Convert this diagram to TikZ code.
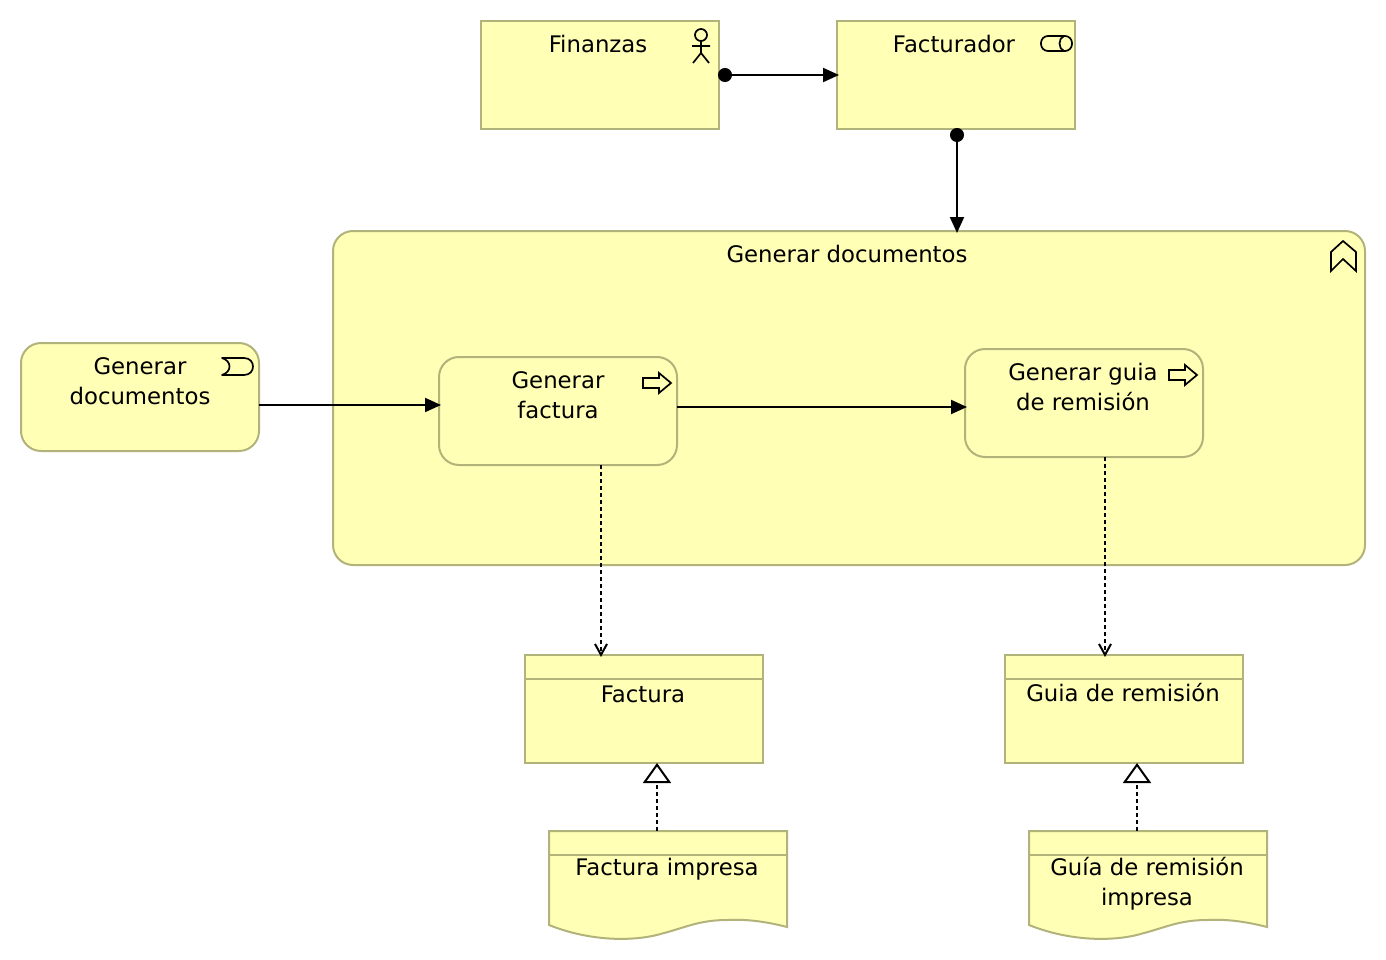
\documentclass[tikz,border=0pt]{standalone}
\usepackage{fontspec}
\setmainfont{DejaVu Sans}
\usetikzlibrary{arrows.meta}
\definecolor{amarillo}{HTML}{FFFFB5}
\definecolor{borde}{HTML}{B2B27B}
\tikzset{
  caja/.style={draw=borde, fill=amarillo, line width=2pt, inner sep=0pt, outer sep=0pt,
    minimum width=238pt, minimum height=108pt},
  redonda/.style={caja, rounded corners=20pt},
  texto/.style={font=\fontsize{22.8}{30}\selectfont, align=center, inner sep=0pt, text=black},
  icono/.style={draw=black, line width=1.7pt, line join=miter},
  flujo/.style={line width=2pt, shorten >=-2pt, -{Triangle[length=16pt,width=14pt]}},
  asignacion/.style={line width=2pt, shorten >=-2pt, shorten <=-1pt, {Circle[length=14pt,width=14pt]}-{Triangle[length=16pt,width=14pt]}},
  acceso/.style={line width=2pt, shorten >=-2pt, dash pattern=on 4pt off 3pt, -{Straight Barb[length=11pt,width=12pt]}},
  realiza/.style={line width=2pt, dash pattern=on 4pt off 3pt, -{Triangle[length=20pt,width=28pt,fill=white]}}
}
\begin{document}
\begin{tikzpicture}[x=1pt,y=-1pt]
\useasboundingbox (0,0) rectangle (1386,960);

% cajas
\node[caja] (finanzas) at (600,75) {};
\node[caja] (facturador) at (956,75) {};
\node[redonda, minimum width=1032pt, minimum height=334pt] (proceso) at (849,398) {};
\node[redonda] (servicio) at (140,397) {};
\node[redonda] (factura) at (558,411) {};
\node[redonda] (guia) at (1084,403) {};
\node[caja] (docfactura) at (644,709) {};
\node[caja] (docguia) at (1124,709) {};
\draw[borde, line width=2pt] (docfactura.west |- 0,679) -- (docfactura.east |- 0,679);
\draw[borde, line width=2pt] (docguia.west |- 0,679) -- (docguia.east |- 0,679);

% documentos impresos con borde ondulado
\foreach \xx/\nombre in {549/impfactura,1029/impguia}{
  \draw[borde, fill=amarillo, line width=2pt] (\xx,831) -- (\xx+238,831) -- (\xx+238,927)
    .. controls (\xx+215,921) and (\xx+195,919) .. (\xx+178,920)
    .. controls (\xx+150,920) and (\xx+135,928) .. (\xx+115,933)
    .. controls (\xx+90,941) and (\xx+45,943) .. (\xx,925) -- cycle;
  \draw[borde, line width=2pt] (\xx,855) -- (\xx+238,855);
  \node[minimum width=238pt, minimum height=24pt, inner sep=0pt, outer sep=0pt] (\nombre) at (\xx+119,843) {};
}

% textos
\node[texto] (tfinanzas) at (598,44) {Finanzas};
\node[texto] (tfacturador) at (954,44) {Facturador};
\node[texto] (tproceso) at (847,254) {Generar documentos};
\node[texto] (tservicio) at (140,381) {Generar\\documentos};
\node[texto] (tfactura) at (558,395) {Generar\\factura};
\node[texto] (tguia) at (1083,387) {Generar guia\\de remisión};
\node[texto] (tdocfactura) at (643,694) {Factura};
\node[texto] (tdocguia) at (1123,693) {Guia de remisión};
\node[texto] (timpfactura) at (667,869) {Factura impresa};
\node[texto] (timpguia) at (1147,884) {Guía de remisión\\impresa};

% iconos
\draw[icono] (701,35) circle (6);
\draw[icono] (701,41) -- (701,53) (692,46) -- (710,46) (693,63) -- (701,53) -- (709,63);
\draw[icono, rounded corners=7pt] (1041,36) rectangle (1072,51);
\draw[icono] (1064,36) .. controls (1058,38) and (1058,49) .. (1064,51);
\draw[icono, line join=round] (222,358) -- (244,358) .. controls (256,358) and (256,375) .. (244,375) -- (222,375)
  .. controls (232,372) and (232,361) .. (222,358) -- cycle;
\foreach \xx/\yy in {643/383,1169/375}{
  \draw[icono] (\xx,\yy-5) -- (\xx+16,\yy-5) -- (\xx+16,\yy-10) -- (\xx+28,\yy) -- (\xx+16,\yy+10)
    -- (\xx+16,\yy+5) -- (\xx,\yy+5) -- cycle;
}
\draw[icono] (1343,241) -- (1356,252) -- (1356,271) -- (1343,259) -- (1331,271) -- (1331,252) -- cycle;

% conectores
\draw[asignacion] (finanzas.east) -- (facturador.west);
\draw[asignacion] ([xshift=1pt]facturador.south) -- ([xshift=1pt]facturador.south |- proceso.north);
\draw[flujo] ([yshift=-8pt]servicio.east) -- ([yshift=-8pt]servicio.east -| factura.west);
\draw[flujo] ([yshift=4pt]factura.east) -- ([yshift=4pt]factura.east -| guia.west);
\draw[acceso] (factura.south -| 601,0) -- (docfactura.north -| 601,0);
\draw[acceso] (guia.south -| 1105,0) -- (docguia.north -| 1105,0);
\draw[realiza] (impfactura.north -| 657,0) -- (docfactura.south -| 657,0);
\draw[realiza] (impguia.north -| 1137,0) -- (docguia.south -| 1137,0);
\end{tikzpicture}
\end{document}
